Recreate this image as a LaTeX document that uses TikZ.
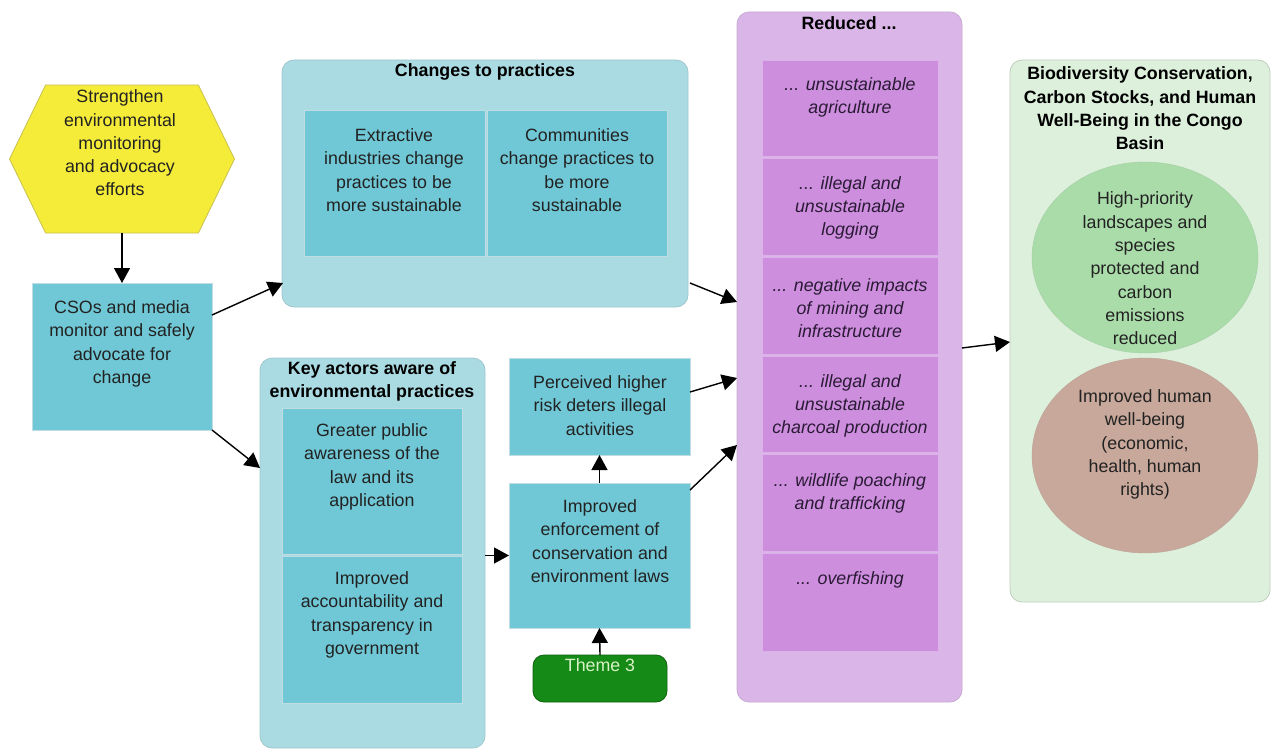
\documentclass[tikz,border=0pt]{standalone}
\usepackage{fontspec}
\setmainfont{Liberation Sans}
\usetikzlibrary{arrows.meta,shapes.geometric,shapes.symbols,calc}
\definecolor{tealin}{HTML}{70C8D6}
\definecolor{tealout}{HTML}{AADAE2}
\definecolor{purout}{HTML}{DAB6E8}
\definecolor{purin}{HTML}{CD8EDE}
\definecolor{grnout}{HTML}{DCF0DC}
\definecolor{grncirc}{HTML}{AADCAA}
\definecolor{brncirc}{HTML}{C8A89B}
\definecolor{hexfill}{HTML}{F5EC3A}
\definecolor{hexedge}{HTML}{C8C050}
\definecolor{themefill}{HTML}{168A16}
\definecolor{themetxt}{HTML}{D8F2C8}
\definecolor{txtcol}{HTML}{222222}
\definecolor{redtxt}{HTML}{2A1A35}
\tikzset{
  base/.style={inner sep=0pt, outer sep=0pt, anchor=north west},
  inbox/.style={base, fill=tealin, draw=tealin!85!black!40!white, line width=0.6pt},
  outbox/.style={base, fill=tealout, draw=tealout!80!gray, line width=0.8pt, rounded corners=12pt},
  purbox/.style={base, fill=purout, draw=purout!80!gray, line width=0.8pt, rounded corners=12pt},
  prow/.style={base, fill=purin, draw=purin!70!white, line width=0.6pt},
  grnbox/.style={base, fill=grnout, draw=grnout!70!gray, line width=0.8pt, rounded corners=12pt},
  txt/.style={inner sep=0pt, align=center, text=txtcol, font=\fontsize{17.8}{23.3}\selectfont},
  ttl/.style={inner sep=0pt, align=center, text=black, font=\fontsize{17.8}{23.3}\selectfont\bfseries},
  itx/.style={inner sep=0pt, align=center, text=redtxt, font=\fontsize{17.8}{23.3}\selectfont\itshape},
  arr/.style={-{Triangle[length=15pt,width=16pt]}, line width=1.4pt, black}
}
\begin{document}
\begin{tikzpicture}[x=1pt,y=-1pt]
\useasboundingbox[fill=white] (0,0) rectangle (1271,752);

% hexagon
\node[shape=signal, signal to=east and west, signal pointer angle=128,
      minimum width=225pt, minimum height=148pt, inner sep=0pt,
      fill=hexfill, draw=hexedge, line width=0.8pt] (hex) at (122,159) {};
\node[txt] (hext) at (120,143) {Strengthen\\environmental\\monitoring\\and advocacy\\efforts};

% CSOs
\node[inbox, minimum width=180pt, minimum height=147pt] (cso) at (32,283) {};
\node[txt] (csot) at (122,344) {CSOs and media\\monitor and safely\\advocate for\\change};

% Changes to practices
\node[outbox, minimum width=406pt, minimum height=247pt] (chg) at (282,60) {};
\node[ttl] (chgt) at (485,72) {Changes to practices};
\node[inbox, minimum width=181pt, minimum height=146pt] (ext) at (304,110) {};
\node[inbox, minimum width=180pt, minimum height=146pt] (com) at (487,110) {};
\node[txt] (extt) at (394,170) {Extractive\\industries change\\practices to be\\more sustainable};
\node[txt] (comt) at (577,170) {Communities\\change practices to\\be more\\sustainable};

% Key actors
\node[outbox, minimum width=225pt, minimum height=390pt] (key) at (260,358) {};
\node[ttl] (keyt) at (372,381.5) {Key actors aware of\\environmental practices};
\node[inbox, minimum width=180pt, minimum height=146pt] (pub) at (282,408) {};
\node[inbox, minimum width=180pt, minimum height=147pt] (acc) at (282,556) {};
\node[txt] (pubt) at (372,467) {Greater public\\awareness of the\\law and its\\application};
\node[txt] (acct) at (372,615) {Improved\\accountability and\\transparency in\\government};

% Perceived / Enforcement / Theme 3
\node[inbox, minimum width=181pt, minimum height=97pt] (per) at (509,358) {};
\node[txt] (pert) at (600,405.5) {Perceived higher\\risk deters illegal\\activities};
\node[inbox, minimum width=181pt, minimum height=145pt] (enf) at (509,483) {};
\node[txt] (enft) at (600,541) {Improved\\enforcement of\\conservation and\\environment laws};
\node[base, minimum width=134pt, minimum height=47pt, rounded corners=11pt,
      fill=themefill, draw=themefill!70!black, line width=0.8pt] (thm) at (533,655) {};
\node[txt, text=themetxt] (thmt) at (600,665) {Theme 3};

% Reduced
\node[purbox, minimum width=225pt, minimum height=690pt] (red) at (737,12) {};
\node[ttl] (redt) at (849,23) {Reduced ...};
\node[prow, minimum width=176pt, minimum height=96pt] (r1) at (762,60) {};
\node[prow, minimum width=176pt, minimum height=97pt] (r2) at (762,158) {};
\node[prow, minimum width=176pt, minimum height=97pt] (r3) at (762,257) {};
\node[prow, minimum width=176pt, minimum height=96pt] (r4) at (762,356) {};
\node[prow, minimum width=176pt, minimum height=97pt] (r5) at (762,454) {};
\node[prow, minimum width=176pt, minimum height=98pt] (r6) at (762,553) {};
\node[itx] (r1t) at (850,97.5) {... unsustainable\\agriculture};
\node[itx] (r2t) at (850,208) {... illegal and\\unsustainable\\logging};
\node[itx] (r3t) at (850,308) {... negative impacts\\of mining and\\infrastructure};
\node[itx] (r4t) at (850,406) {... illegal and\\unsustainable\\charcoal production};
\node[itx] (r5t) at (850,493.5) {... wildlife poaching\\and trafficking};
\node[itx] (r6t) at (850,580) {... overfishing};

% Biodiversity
\node[grnbox, minimum width=260pt, minimum height=542pt] (bio) at (1010,60) {};
\node[ttl] (biot) at (1140,108.5) {Biodiversity Conservation,\\Carbon Stocks, and Human\\Well-Being in the Congo\\Basin};
\node[ellipse, minimum width=226pt, minimum height=191pt, inner sep=0pt, fill=grncirc, draw=grncirc!85!gray] (eg) at (1145,257.5) {};
\node[txt] (egt) at (1145,268.5) {High-priority\\landscapes and\\species\\protected and\\carbon\\emissions\\reduced};
\node[ellipse, minimum width=226pt, minimum height=195pt, inner sep=0pt, fill=brncirc, draw=brncirc!85!gray] (eb) at (1145,455.5) {};
\node[txt] (ebt) at (1145,444.5) {Improved human\\well-being\\(economic,\\health, human\\rights)};

% connectors
\draw[arr] (hex.south) -- (cso.north);
\draw[arr] ($(cso.north east)+(0,32)$) -- ($(chg.south west)+(1,-24)$);
\draw[arr] (cso.south east) -- ($(key.north west)+(0,110)$);
\draw[arr] ($(chg.south east)+(2,-24)$) -- ($(red.north west)+(0,290)$);
\draw[arr] ($(per.north east)+(0,34)$) -- ($(red.north west)+(0,366)$);
\draw[arr] ($(enf.north east)+(0,7)$) -- ($(red.north west)+(0,433)$);
\draw[arr] (key.east |- enf.west) -- (enf.west);
\draw[arr] (enf.north) -- (per.south);
\draw[arr] (thm.north) -- (enf.south);
\draw[arr] ($(red.north east)+(0,336)$) -- ($(bio.north west)+(0,282)$);
\end{tikzpicture}
\end{document}
